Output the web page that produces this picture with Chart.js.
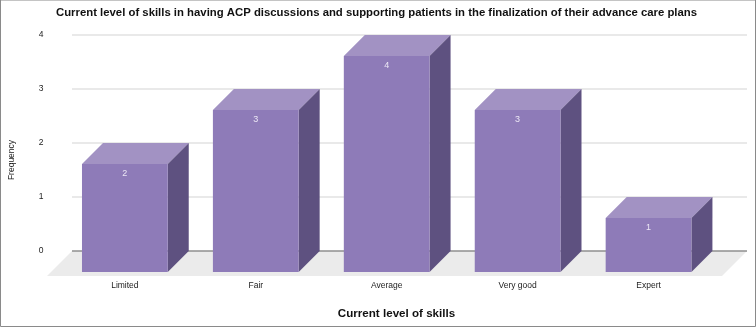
<!DOCTYPE html>
<html><head><meta charset="utf-8">
<style>html,body{margin:0;padding:0;background:#fff}#w{width:756px;height:327px;position:relative}</style>
<script src="https://cdn.jsdelivr.net/npm/chart.js@4/dist/chart.umd.min.js"></script>
</head><body><div id="w"><canvas id="c" width="756" height="327"></canvas></div>
<script>
const categories = ["Limited","Fair","Average","Very good","Expert"];
const frequency = [2,3,4,3,1];
const chartTitle = "Current level of skills in having ACP discussions and supporting patients in the finalization of their advance care plans";
const xTitle = "Current level of skills";
const yTitle = "Frequency";
const DEPTH = 21;
const FONT = "'Liberation Sans', Arial, sans-serif";

const cube = {
  id:'cube',
  beforeDatasetsDraw(chart){
    const {ctx, scales:{y}, chartArea:a} = chart;
    const gl = a.left + 12.6, gr = a.right + 33;
    ctx.save();
    const y0 = y.getPixelForValue(0);
    ctx.fillStyle = '#ebebeb';
    ctx.beginPath();
    ctx.moveTo(gl, y0); ctx.lineTo(gr, y0);
    ctx.lineTo(gr-25, y0+25); ctx.lineTo(gl-25, y0+25);
    ctx.closePath(); ctx.fill();
    y.ticks.forEach(t=>{
      const p = y.getPixelForValue(t.value);
      ctx.strokeStyle = t.value===0 ? '#8f8f8f' : '#e2e2e2';
      ctx.lineWidth = 1.4;
      ctx.beginPath(); ctx.moveTo(gl,p); ctx.lineTo(gr,p); ctx.stroke();
    });
    ctx.restore();
  },
  beforeDatasetDraw(chart,args){
    const {ctx} = chart, m = args.meta;
    ctx.save();
    ctx.translate(0,DEPTH);
    m.data.forEach(b=>{
      const l=b.x-b.width/2, r=b.x+b.width/2, t=b.y, bt=b.base;
      ctx.fillStyle='#a292c3';
      ctx.beginPath();ctx.moveTo(l,t);ctx.lineTo(l+DEPTH,t-DEPTH);ctx.lineTo(r+DEPTH,t-DEPTH);ctx.lineTo(r,t);ctx.closePath();ctx.fill();
      ctx.fillStyle='#5e5180';
      ctx.beginPath();ctx.moveTo(r,t);ctx.lineTo(r+DEPTH,t-DEPTH);ctx.lineTo(r+DEPTH,bt-DEPTH);ctx.lineTo(r,bt);ctx.closePath();ctx.fill();
    });
  },
  afterDatasetDraw(chart,args){
    const {ctx} = chart, m = args.meta;
    ctx.fillStyle='#ece7f5';
    ctx.font='9px '+FONT;
    ctx.textAlign='center';ctx.textBaseline='middle';
    m.data.forEach((b,i)=>ctx.fillText(String(frequency[i]),b.x,b.y+9.5));
    ctx.restore();
  },
  afterDraw(chart){
    const {ctx} = chart;
    ctx.save();
    ctx.textAlign='center';ctx.textBaseline='middle';
    ctx.fillStyle='#111';
    ctx.font='bold 11.35px '+FONT;
    ctx.fillText(chartTitle,376.5,12.5);
    ctx.font='bold 11.6px '+FONT;
    ctx.fillText(xTitle,396.5,313.5);
    ctx.fillStyle='#222';
    ctx.font='8.5px '+FONT;
    ctx.translate(12,160);ctx.rotate(-Math.PI/2);
    ctx.fillText(yTitle,0,0);
    ctx.restore();
    ctx.save();
    ctx.lineWidth=1;
    ctx.strokeStyle='#8a8a8a';
    ctx.beginPath();ctx.moveTo(0.5,0);ctx.lineTo(0.5,326.5);ctx.lineTo(755.5,326.5);ctx.lineTo(755.5,0);ctx.stroke();
    ctx.strokeStyle='#c4c4c4';
    ctx.beginPath();ctx.moveTo(1,0.5);ctx.lineTo(755,0.5);ctx.stroke();
    ctx.restore();
  }
};

new Chart(document.getElementById('c'),{
  type:'bar',
  data:{labels:categories,datasets:[{data:frequency,backgroundColor:'#8e7bb8',borderWidth:0,clip:false,
    barPercentage:0.655,categoryPercentage:1}]},
  plugins:[cube],
  options:{
    responsive:false,animation:false,
    layout:{padding:{left:0,right:42,top:35,bottom:0}},
    plugins:{legend:{display:false},tooltip:{enabled:false},title:{display:false}},
    scales:{
      x:{grid:{display:false},border:{display:false},
        ticks:{color:'#222',font:{family:FONT,size:8.5},padding:22,maxRotation:0,autoSkip:false},
        afterFit(s){s.height=76;}},
      y:{min:0,max:4,grid:{display:false,drawTicks:false},border:{display:false},
        ticks:{stepSize:1,color:'#222',font:{family:FONT,size:8.5},padding:16},
        afterFit(s){s.width=59.4;}}
    }
  }
});
</script></body></html>
